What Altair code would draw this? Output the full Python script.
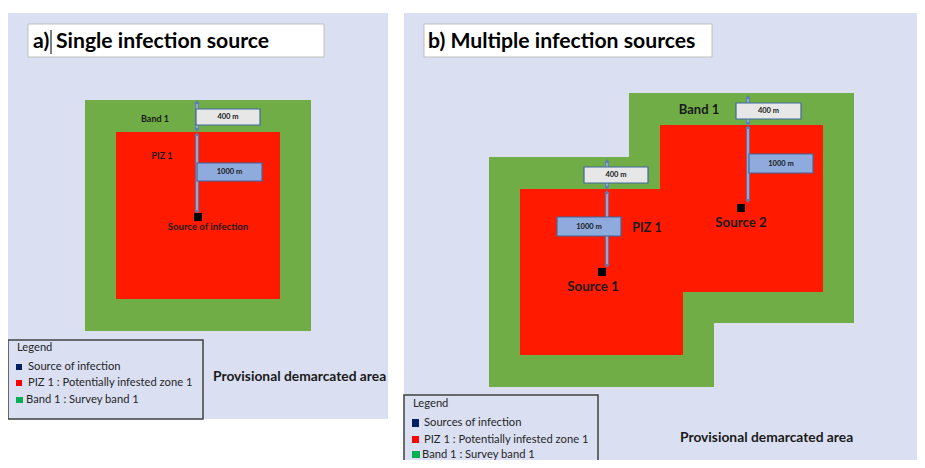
import altair as alt
import pandas as pd

# ---------------- data (diagram coordinates, page pixels) ----------------
W, H = 909, 452
X_DOM = [8, 8 + W]
Y_DOM = [8, 8 + H]

BG = "#DAE0F2"
GREEN = "#70AD47"
RED = "#FF1A00"

# rectangles drawn in order: backgrounds, title boxes, band, PIZ, legend boxes
rect_x0 = [8, 404, 28, 424, 85, 489, 629, 116, 520, 660, 8, 404]
rect_x1 = [388, 925, 324, 712, 311, 714, 854, 280, 683, 823, 203, 598]
rect_y0 = [13, 13, 24, 24, 100, 157, 93, 132, 189, 125, 340, 395]
rect_y1 = [419, 470, 57, 57, 331, 387, 323, 299, 355, 292, 419, 472]
rect_fill = [BG, BG, "#FFFFFF", "#FFFFFF", GREEN, GREEN, GREEN, RED, RED, RED, BG, BG]
rect_stroke = ["transparent", "transparent", "#BFBFBF", "#BFBFBF", "transparent", "transparent",
               "transparent", "transparent", "transparent", "transparent", "#404040", "#404040"]
rect_sw = [0, 0, 1, 1, 0, 0, 0, 0, 0, 0, 1.5, 1.5]

# distance arrows (x, y_start, y_end)
arrow_x = [197, 197, 607, 607, 748, 748]
arrow_y0 = [102, 134, 161, 192, 97, 127]
arrow_y1 = [130, 212, 188, 266, 124, 201]

# measurement boxes
box_label = ["400 m", "400 m", "400 m", "1000 m", "1000 m", "1000 m"]
box_x0 = [196, 584, 736, 197, 557, 749]
box_x1 = [260, 648, 801, 262, 621, 813]
box_y0 = [109, 167, 103, 163, 217, 154]
box_y1 = [125, 183, 119, 181, 236, 173]
box_fill = ["#E7E7E7", "#E7E7E7", "#E7E7E7", "#8FAADC", "#8FAADC", "#8FAADC"]

# infection sources
src_x = [198, 602, 741]
src_y = [217, 272, 208]

# titles
title_text = ["a)", "Single infection source", "b) Multiple infection sources"]
title_x = [33, 56, 428]
title_y = [42, 42, 42]

# zone labels (centred)
zone_text = ["Band 1", "PIZ 1", "Source of infection", "Band 1", "PIZ 1", "Source 1", "Source 2"]
zone_x = [155, 162, 208, 699, 647, 593, 741]
zone_y = [119, 156, 227, 110, 228, 287, 223]
zone_size = [9, 9, 9.6, 13, 12.5, 13.3, 13.3]

# legends
leg_text = ["Legend", "Source of infection", "PIZ 1 : Potentially infested zone 1", "Band 1 : Survey band 1",
            "Legend", "Sources of infection", "PIZ 1 : Potentially infested zone 1", "Band 1 : Survey band 1"]
leg_x = [17, 28, 28, 26, 413, 424, 424, 422]
leg_y = [348, 367, 383, 400, 404, 423, 439.5, 454.5]
sw_x0 = [16, 16, 16, 412, 412, 412]
sw_x1 = [22, 22, 23, 419, 419, 420]
sw_y0 = [364, 380, 397, 419, 436, 451]
sw_y1 = [370, 386, 403, 427, 443, 458]
sw_fill = ["#002060", "#FF0000", "#00B050", "#002060", "#FF0000", "#00B050"]

area_text = ["Provisional demarcated area", "Provisional demarcated area"]
area_x = [213, 680]
area_y = [377, 438]

FONT = "Lato"

# ---------------- chart ----------------
xs = alt.Scale(domain=X_DOM, nice=False, zero=False)
ys = alt.Scale(domain=Y_DOM, nice=False, zero=False, reverse=True)


def X(f):
    return alt.X(f, scale=xs, axis=None)


def Y(f):
    return alt.Y(f, scale=ys, axis=None)


rects = pd.DataFrame(dict(x0=rect_x0, x1=rect_x1, y0=rect_y0, y1=rect_y1,
                          fill=rect_fill, stroke=rect_stroke, sw=rect_sw))
rect_layer = alt.Chart(rects).mark_rect(clip=True).encode(
    x=X("x0:Q"), x2="x1:Q", y=Y("y0:Q"), y2="y1:Q",
    fill=alt.Fill("fill:N", scale=None),
    stroke=alt.Stroke("stroke:N", scale=None),
    strokeWidth=alt.StrokeWidth("sw:Q", scale=None),
)

arrows = pd.DataFrame(dict(x=arrow_x, y0=arrow_y0, y1=arrow_y1))
arrow_outer = alt.Chart(arrows).mark_rule(color="#5B7CB8", strokeWidth=3.5).encode(
    x=X("x:Q"), y=Y("y0:Q"), y2="y1:Q")
arrow_inner = alt.Chart(arrows).mark_rule(color="#B4C6E7", strokeWidth=1.2).encode(
    x=X("x:Q"), y=Y("y0:Q"), y2="y1:Q")
head_up = alt.Chart(arrows).mark_point(shape="triangle-up", filled=True, color="#5B7CB8",
                                       size=22, opacity=1).encode(x=X("x:Q"), y=Y("y0:Q"))
head_dn = alt.Chart(arrows).mark_point(shape="triangle-down", filled=True, color="#5B7CB8",
                                       size=22, opacity=1).encode(x=X("x:Q"), y=Y("y1:Q"))

boxes = pd.DataFrame(dict(label=box_label, x0=box_x0, x1=box_x1, y0=box_y0, y1=box_y1, fill=box_fill))
boxes["cx"] = (boxes.x0 + boxes.x1) / 2
boxes["cy"] = (boxes.y0 + boxes.y1) / 2
box_layer = alt.Chart(boxes).mark_rect(stroke="#41679E", strokeWidth=1.2).encode(
    x=X("x0:Q"), x2="x1:Q", y=Y("y0:Q"), y2="y1:Q", fill=alt.Fill("fill:N", scale=None))
box_text = alt.Chart(boxes).mark_text(font=FONT, fontSize=7.5, fontWeight="bold", color="#1a1a1a",
                                      baseline="middle").encode(x=X("cx:Q"), y=Y("cy:Q"), text="label:N")

srcs = pd.DataFrame(dict(x=src_x, y=src_y))
src_layer = alt.Chart(srcs).mark_square(size=64, color="#000000", opacity=1).encode(x=X("x:Q"), y=Y("y:Q"))

titles = pd.DataFrame(dict(t=title_text, x=title_x, y=title_y))
title_layer = alt.Chart(titles).mark_text(font=FONT, fontSize=21.2, fontWeight="bold", align="left",
                                          baseline="middle", color="#000000").encode(
    x=X("x:Q"), y=Y("y:Q"), text="t:N")
cursor = alt.Chart(pd.DataFrame(dict(x=[51], y0=[30], y1=[54]))).mark_rule(color="#000000", strokeWidth=1).encode(
    x=X("x:Q"), y=Y("y0:Q"), y2="y1:Q")

zones = pd.DataFrame(dict(t=zone_text, x=zone_x, y=zone_y, s=zone_size))
zone_layer = alt.Chart(zones).mark_text(font=FONT, fontWeight="bold", baseline="middle",
                                        color="#1a1a1a").encode(
    x=X("x:Q"), y=Y("y:Q"), text="t:N", size=alt.Size("s:Q", scale=None))

swatches = pd.DataFrame(dict(x0=sw_x0, x1=sw_x1, y0=sw_y0, y1=sw_y1, fill=sw_fill))
sw_layer = alt.Chart(swatches).mark_rect().encode(
    x=X("x0:Q"), x2="x1:Q", y=Y("y0:Q"), y2="y1:Q", fill=alt.Fill("fill:N", scale=None))
legs = pd.DataFrame(dict(t=leg_text, x=leg_x, y=leg_y))
leg_layer = alt.Chart(legs).mark_text(font=FONT, fontSize=11.2, align="left", baseline="middle",
                                      color="#262626").encode(x=X("x:Q"), y=Y("y:Q"), text="t:N")

areas = pd.DataFrame(dict(t=area_text, x=area_x, y=area_y))
area_layer = alt.Chart(areas).mark_text(font=FONT, fontSize=13.8, fontWeight="bold", align="left",
                                        baseline="middle", color="#1a1a1a").encode(
    x=X("x:Q"), y=Y("y:Q"), text="t:N")

chart = alt.layer(
    rect_layer, arrow_outer, arrow_inner, head_up, head_dn, box_layer, box_text, src_layer,
    title_layer, cursor, zone_layer, sw_layer, leg_layer, area_layer,
).properties(width=W, height=H, padding=0, autosize=alt.AutoSizeParams(type="none"),
             background="#FFFFFF").configure_view(stroke=None)

chart.save("out.html", embed_options={"renderer": "svg", "actions": False})
